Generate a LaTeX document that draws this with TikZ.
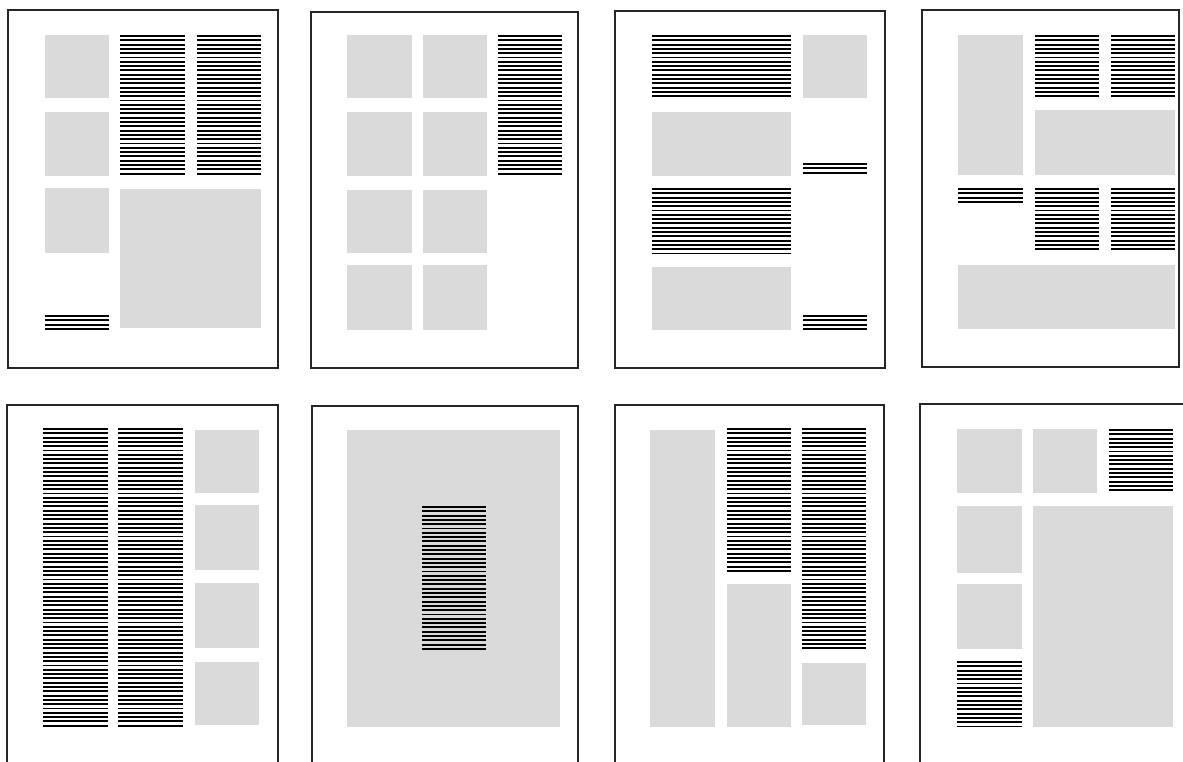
\documentclass[tikz,border=0pt]{standalone}
\definecolor{photo}{RGB}{218,218,218}
\tikzset{
  pageframe/.style={draw=black!85, line width=1.1pt},
  photo/.style={fill=photo, draw=none},
  txtline/.style={draw=black, line width=1.9pt}
}
\newcommand\txtblk[4]{%
  \pgfmathtruncatemacro\nl{floor((#4-#2-1.5)/4.3)}%
  \foreach \i in {0,...,\nl}{\draw[txtline] (#1,{#2+1+\i*4.3}) -- (#3,{#2+1+\i*4.3});}%
}
\newcommand\photoblk[4]{\fill[photo] (#1,#2) rectangle (#3,#4);}
\begin{document}
\begin{tikzpicture}[x=1pt,y=-1pt]
\useasboundingbox (0,0) rectangle (1183,762);
% ---------- Page 1 ----------
\draw[pageframe] (8,10) rectangle (278,368);
\photoblk{45}{35}{109}{98}
\photoblk{45}{112}{109}{176}
\photoblk{45}{188}{109}{253}
\photoblk{120}{189}{261}{328}
\txtblk{120}{35}{185}{177}
\txtblk{197}{35}{261}{177}
\txtblk{45}{315}{109}{330}
% ---------- Page 2 ----------
\draw[pageframe] (311,12) rectangle (578,368);
\photoblk{347}{35}{412}{98}
\photoblk{423}{35}{487}{98}
\photoblk{347}{112}{412}{176}
\photoblk{423}{112}{487}{176}
\photoblk{347}{190}{412}{253}
\photoblk{423}{190}{487}{253}
\photoblk{347}{265}{412}{330}
\photoblk{423}{265}{487}{330}
\txtblk{498}{35}{562}{178}
% ---------- Page 3 ----------
\draw[pageframe] (615,11) rectangle (885,368);
\txtblk{652}{35}{791}{100}
\photoblk{803}{35}{867}{98}
\photoblk{652}{112}{791}{176}
\txtblk{803}{163}{867}{177}
\txtblk{652}{188}{791}{254}
\photoblk{652}{267}{791}{330}
\txtblk{803}{315}{867}{330}
% ---------- Page 4 ----------
\draw[pageframe] (922,10) rectangle (1179,367);
\photoblk{958}{35}{1023}{175}
\txtblk{1035}{35}{1099}{99}
\txtblk{1111}{35}{1175}{99}
\photoblk{1035}{110}{1175}{175}
\txtblk{958}{188}{1023}{203}
\txtblk{1035}{188}{1099}{253}
\txtblk{1111}{188}{1175}{253}
\photoblk{958}{265}{1175}{329}
% ---------- Page 5 ----------
\draw[pageframe] (7,762) -- (7,405) -- (278,405) -- (278,762);
\txtblk{43}{428}{108}{727}
\txtblk{118}{428}{183}{727}
\photoblk{195}{430}{259}{493}
\photoblk{195}{505}{259}{570}
\photoblk{195}{583}{259}{648}
\photoblk{195}{662}{259}{725}
% ---------- Page 6 ----------
\draw[pageframe] (312,762) -- (312,406) -- (578,406) -- (578,762);
\photoblk{347}{430}{560}{727}
\txtblk{422}{506}{486}{652}
% ---------- Page 7 ----------
\draw[pageframe] (615,762) -- (615,405) -- (884,405) -- (884,762);
\photoblk{650}{430}{715}{727}
\txtblk{727}{428}{791}{573}
\photoblk{727}{584}{791}{727}
\txtblk{802}{428}{866}{652}
\photoblk{802}{663}{866}{725}
% ---------- Page 8 ----------
\draw[pageframe] (920,762) -- (920,404) -- (1183,404);
\photoblk{957}{429}{1022}{493}
\photoblk{1033}{429}{1097}{493}
\txtblk{1109}{429}{1173}{493}
\photoblk{957}{506}{1022}{573}
\photoblk{1033}{506}{1173}{727}
\photoblk{957}{584}{1022}{649}
\txtblk{957}{661}{1022}{727}
\end{tikzpicture}
\end{document}
